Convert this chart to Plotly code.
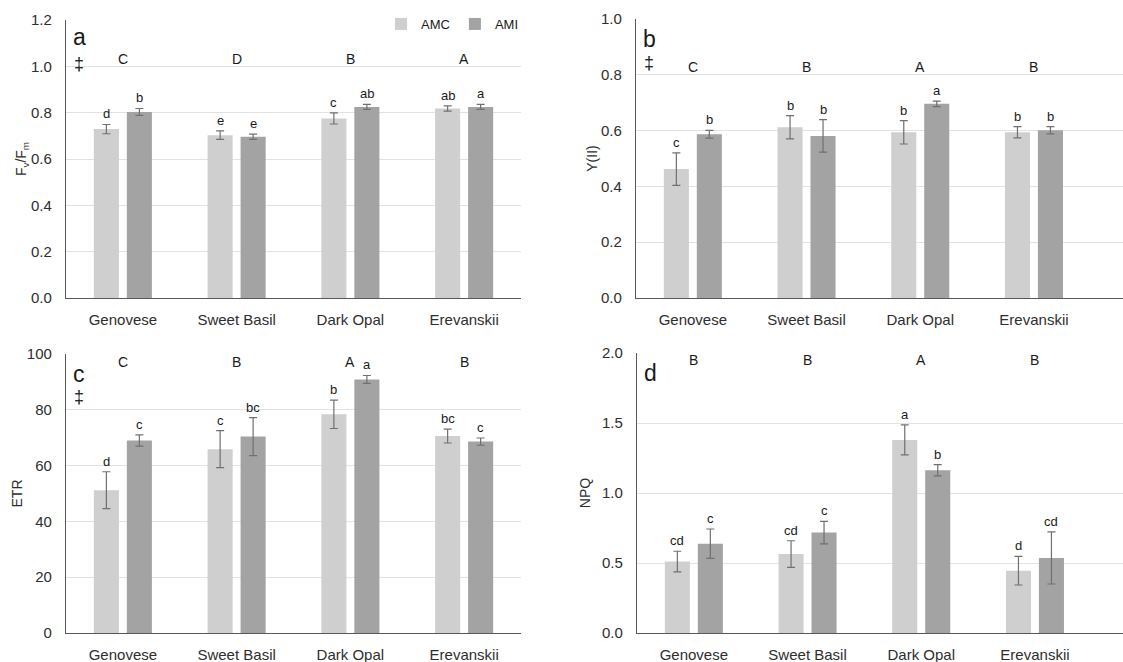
import plotly.graph_objects as go

categories = ["Genovese", "Sweet Basil", "Dark Opal", "Erevanskii"]
series_names = ["AMC", "AMI"]

# Panel a: Fv/Fm
fvfm_amc = [0.729, 0.703, 0.775, 0.818]
fvfm_amc_err = [0.020, 0.018, 0.024, 0.011]
fvfm_ami = [0.803, 0.696, 0.825, 0.825]
fvfm_ami_err = [0.015, 0.011, 0.011, 0.011]
fvfm_amc_letters = ["d", "e", "c", "ab"]
fvfm_ami_letters = ["b", "e", "ab", "a"]
fvfm_group_letters = ["C", "D", "B", "A"]

# Panel b: Y(II)
y2_amc = [0.462, 0.612, 0.594, 0.594]
y2_amc_err = [0.058, 0.042, 0.042, 0.020]
y2_ami = [0.587, 0.581, 0.696, 0.601]
y2_ami_err = [0.014, 0.058, 0.010, 0.013]
y2_amc_letters = ["c", "b", "b", "b"]
y2_ami_letters = ["b", "b", "a", "b"]
y2_group_letters = ["C", "B", "A", "B"]

# Panel c: ETR
etr_amc = [51.2, 65.9, 78.4, 70.6]
etr_amc_err = [6.6, 6.6, 5.1, 2.5]
etr_ami = [69.0, 70.4, 90.9, 68.6]
etr_ami_err = [2.0, 6.8, 1.4, 1.3]
etr_amc_letters = ["d", "c", "b", "bc"]
etr_ami_letters = ["c", "bc", "a", "c"]
etr_group_letters = ["C", "B", "A", "B"]

# Panel d: NPQ
npq_amc = [0.510, 0.564, 1.379, 0.445]
npq_amc_err = [0.074, 0.095, 0.107, 0.102]
npq_ami = [0.638, 0.717, 1.162, 0.536]
npq_ami_err = [0.105, 0.081, 0.040, 0.186]
npq_amc_letters = ["cd", "cd", "a", "d"]
npq_ami_letters = ["c", "c", "b", "cd"]
npq_group_letters = ["B", "B", "A", "B"]

FONT = "Arial, Liberation Sans, sans-serif"
C_AMC = "#cfcfcf"
C_AMI = "#a3a3a3"
ERR_C = "#707070"
AXIS_C = "#595959"
GRID_C = "#e2e2e2"
TXT = "#1a1a1a"
TICK_C = "#2e2e2e"

W, H = 1123, 662
xpos = list(range(len(categories)))
bargap = 0.42
bargroupgap = 0.24
off = (1 - bargap) / 4.0  # bar center offset from category center

panels = [
    dict(key="a", amc=fvfm_amc, amce=fvfm_amc_err, ami=fvfm_ami, amie=fvfm_ami_err,
         la=fvfm_amc_letters, li=fvfm_ami_letters, lg=fvfm_group_letters, gy=1.03,
         title="F<sub>v</sub>/F<sub>m</sub>", rng=[0, 1.2], dtick=0.2, fmt=".1f",
         dagger=True, ly=1.125, dy=1.01, tsd=1,
         xd=[66 / W, 521 / W], yd=[1 - 298 / H, 1 - 20 / H], xr=[-0.5, 3.5], leg=True),
    dict(key="b", amc=y2_amc, amce=y2_amc_err, ami=y2_ami, amie=y2_ami_err,
         la=y2_amc_letters, li=y2_ami_letters, lg=y2_group_letters, gy=0.829,
         title="Y(II)", rng=[0, 1.0], dtick=0.2, fmt=".1f",
         dagger=True, ly=0.93, dy=0.844, tsd=0,
         xd=[636 / W, 1.0], yd=[1 - 298 / H, 1 - 19 / H], xr=[-0.5, -0.5 + 487 / 113.7], leg=False),
    dict(key="c", amc=etr_amc, amce=etr_amc_err, ami=etr_ami, amie=etr_ami_err,
         la=etr_amc_letters, li=etr_ami_letters, lg=etr_group_letters, gy=97.3,
         title="ETR", rng=[0, 100], dtick=20, fmt="d",
         dagger=True, ly=93, dy=84.7, tsd=0,
         xd=[66 / W, 521 / W], yd=[1 - 633 / H, 1 - 354 / H], xr=[-0.5, 3.5], leg=False),
    dict(key="d", amc=npq_amc, amce=npq_amc_err, ami=npq_ami, amie=npq_ami_err,
         la=npq_amc_letters, li=npq_ami_letters, lg=npq_group_letters, gy=1.948,
         title="NPQ", rng=[0, 2.0], dtick=0.5, fmt=".1f",
         dagger=False, ly=1.857, dy=None, tsd=8,
         xd=[637 / W, 1.0], yd=[1 - 633 / H, 1 - 353 / H], xr=[-0.5, -0.5 + 486 / 113.7], leg=False),
]

fig = go.Figure()
annotations = []
layout_axes = {}

for i, p in enumerate(panels):
    n = "" if i == 0 else str(i + 1)
    xa, ya = "x" + n, "y" + n
    for name, vals, errs, col in [(series_names[0], p["amc"], p["amce"], C_AMC),
                                  (series_names[1], p["ami"], p["amie"], C_AMI)]:
        fig.add_trace(go.Bar(
            x=xpos, y=vals, name=name, marker=dict(color=col, line=dict(width=0)),
            error_y=dict(type="data", array=errs, color=ERR_C, thickness=1.2, width=4),
            xaxis=xa, yaxis=ya, showlegend=p["leg"], legendgroup=name,
        ))
    # letters above bars
    for j in xpos:
        for vals, errs, letters, sgn in [(p["amc"], p["amce"], p["la"], -1),
                                         (p["ami"], p["amie"], p["li"], 1)]:
            annotations.append(dict(
                x=j + sgn * off, y=vals[j] + errs[j], xref=xa, yref=ya,
                text=letters[j], showarrow=False, yanchor="bottom", yshift=1,
                font=dict(size=13, color=TXT, family=FONT)))
        annotations.append(dict(
            x=j, y=p["gy"], xref=xa, yref=ya, text=p["lg"][j], showarrow=False,
            yanchor="middle", font=dict(size=14, color=TXT, family=FONT)))
    # panel label
    annotations.append(dict(
        x=0, y=p["ly"], xref=xa + " domain", yref=ya, text=p["key"], showarrow=False,
        xanchor="left", yanchor="middle", xshift=5, font=dict(size=23, color=TXT, family=FONT)))
    if p["dagger"]:
        annotations.append(dict(
            x=0, y=p["dy"], xref=xa + " domain", yref=ya, text="‡", showarrow=False,
            xanchor="left", yanchor="middle", xshift=6, font=dict(size=18, color=TXT, family=FONT)))

    layout_axes["xaxis" + n] = dict(
        domain=p["xd"], anchor=ya, range=p["xr"], tickmode="array", tickvals=xpos,
        ticktext=categories, showline=True, linecolor=AXIS_C, linewidth=1.3,
        showgrid=False, zeroline=False, ticks="", ticklabelstandoff=8, automargin=False,
        tickfont=dict(size=15, color=TICK_C, family=FONT), fixedrange=True)
    layout_axes["yaxis" + n] = dict(
        domain=p["yd"], anchor=xa, range=p["rng"], dtick=p["dtick"], tick0=0,
        tickformat=p["fmt"], showline=True, linecolor=AXIS_C, linewidth=1.3,
        showgrid=True, gridcolor=GRID_C, gridwidth=1, zeroline=False, ticks="",
        ticklabelstandoff=10, automargin=False, tickfont=dict(size=15, color=TICK_C, family=FONT),
        title=dict(text=p["title"], font=dict(size=14, color=TICK_C, family=FONT), standoff=p["tsd"]))

fig.update_layout(
    width=W, height=H, margin=dict(l=0, r=0, t=0, b=0, autoexpand=False),
    paper_bgcolor="white", plot_bgcolor="white",
    barmode="group", bargap=bargap, bargroupgap=bargroupgap,
    font=dict(family=FONT, color=TXT),
    legend=dict(orientation="h", x=524 / W, xanchor="right", y=1 - 24 / H, yanchor="middle",
                bgcolor="white", font=dict(size=13, color=TXT, family=FONT),
                itemwidth=30, tracegroupgap=0),
    annotations=annotations,
    **layout_axes,
)

fig.write_html("out.html", config={"displayModeBar": False},
               post_script="document.body.style.margin='0';document.body.style.overflow='hidden';")
